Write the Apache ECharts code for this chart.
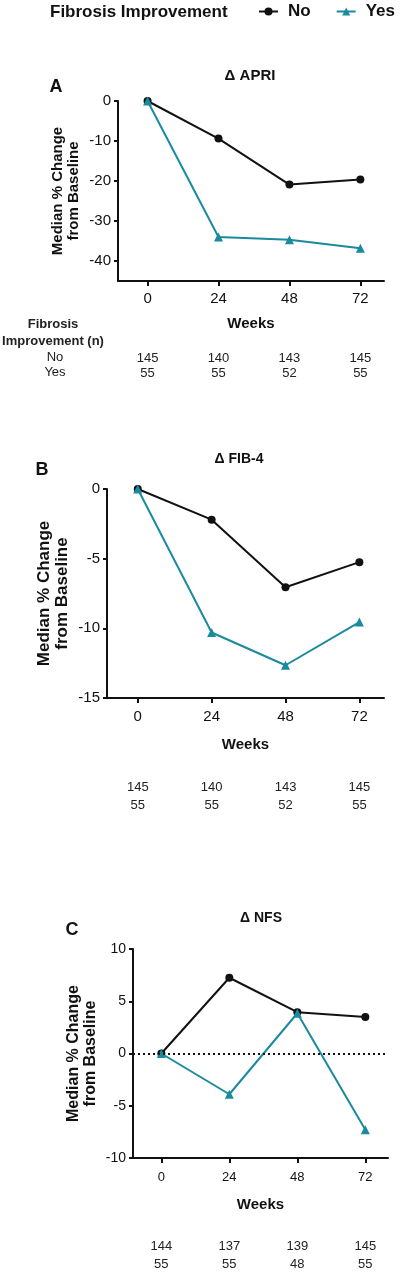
<!DOCTYPE html>
<html>
<head>
<meta charset="utf-8">
<script src="https://cdn.jsdelivr.net/npm/echarts@6/dist/echarts.min.js"></script>
<style>
html,body{margin:0;padding:0;background:#fff;}
#c{width:400px;height:1276px;}
</style>
</head>
<body>
<div id="c"></div>
<script>
// ---- data ----
const weeks = [0, 24, 48, 72];
const seriesNames = ['No', 'Yes'];
const apriNo  = [0, -9.4, -20.9, -19.6];
const apriYes = [0, -34.0, -34.7, -36.8];
const fibNo   = [0, -2.2, -7.05, -5.25];
const fibYes  = [0, -10.3, -12.65, -9.55];
const nfsNo   = [0, 7.25, 3.95, 3.5];
const nfsYes  = [0, -3.9, 3.85, -7.3];
const apriNNo  = [145, 140, 143, 145];
const apriNYes = [55, 55, 52, 55];
const fibNNo   = [145, 140, 143, 145];
const fibNYes  = [55, 55, 52, 55];
const nfsNNo   = [144, 137, 139, 145];
const nfsNYes  = [55, 55, 48, 55];
const apriTicks = [-40, -30, -20, -10, 0];
const fibTicks  = [-15, -10, -5, 0];
const nfsTicks  = [-10, -5, 0, 5, 10];
const panelTitles = ['\u0394 APRI', '\u0394 FIB-4', '\u0394 NFS'];
const panelLetters = ['A', 'B', 'C'];
const legendTitle = 'Fibrosis Improvement';
const tableHeader = 'Fibrosis\nImprovement (n)';
const rowLabels = ['No', 'Yes'];
const xName = 'Weeks';
const yName = 'Median % Change\nfrom Baseline';

// ---- styles ----
const FONT = '"Liberation Sans", Arial, Helvetica, sans-serif';
const BLACK = '#111111';
const TEAL = '#1a8a9e';

const chart = echarts.init(document.getElementById('c'), null, {renderer: 'canvas'});

const grids = [
  {left: 118, top: 101, width: 266, height: 180},
  {left: 107, top: 489, width: 277, height: 209},
  {left: 133, top: 949, width: 255, height: 209}
];
const yRanges = [[-45, 0, apriTicks], [-15, 0, fibTicks], [-10, 10, nfsTicks]];
const xLabelMargin = [10, 11, 13];
const xLabelSize = [15, 15, 13];
const yLabelSize = [15, 15, 14];
const yNameSize = [15, 17, 16];
const yNameGap = [36, 36, 34];
const weeksGap = [35, 39, 39];
const tableMargin = [70, 80, 79];
const tableLH = [15, 18, 18];
const tableSize = [13, 13, 13];
const nTables = [[apriNNo, apriNYes], [fibNNo, fibNYes], [nfsNNo, nfsNYes]];
const dataSets = [[apriNo, apriYes], [fibNo, fibYes], [nfsNo, nfsYes]];

const xAxes = [];
const yAxes = [];
const series = [];
grids.forEach((g, i) => {
  xAxes.push({
    type: 'value', gridIndex: i, min: -10, max: 80,
    name: xName, nameLocation: 'middle', nameGap: weeksGap[i], nameMoveOverlap: false,
    nameTextStyle: {fontFamily: FONT, fontSize: 15, fontWeight: 'bold', color: BLACK},
    axisLine: {show: true, onZero: false, lineStyle: {color: BLACK, width: 2}},
    axisTick: {show: true, customValues: weeks, length: 5, lineStyle: {color: BLACK, width: 2}},
    axisLabel: {customValues: weeks, margin: xLabelMargin[i], fontFamily: FONT, fontSize: xLabelSize[i], color: BLACK},
    splitLine: {show: false}
  });
  // n-at-risk table drawn as an extra axis
  const nt = nTables[i];
  xAxes.push({
    type: 'value', gridIndex: i, min: -10, max: 80, position: 'bottom',
    axisLine: {show: false}, axisTick: {show: false}, splitLine: {show: false},
    axisLabel: {
      customValues: weeks, margin: tableMargin[i], fontFamily: FONT, fontSize: tableSize[i],
      color: '#222', lineHeight: tableLH[i],
      formatter: v => { const k = weeks.indexOf(v); return nt[0][k] + '\n' + nt[1][k]; }
    }
  });
  const yr = yRanges[i];
  yAxes.push({
    type: 'value', gridIndex: i, min: yr[0], max: yr[1],
    name: yName, nameLocation: 'middle', nameGap: yNameGap[i], nameRotate: 90, nameMoveOverlap: false,
    nameTextStyle: {fontFamily: FONT, fontSize: yNameSize[i], fontWeight: 'bold', color: BLACK, lineHeight: yNameSize[i] + 1},
    axisLine: {show: true, onZero: false, lineStyle: {color: BLACK, width: 2}},
    axisTick: {show: true, customValues: yr[2], length: 4, lineStyle: {color: BLACK, width: 2}},
    axisLabel: {customValues: yr[2], margin: 7, fontFamily: FONT, fontSize: yLabelSize[i], color: BLACK},
    splitLine: {show: false}
  });
  const ds = dataSets[i];
  series.push({
    name: seriesNames[0], type: 'line', xAxisIndex: i * 2, yAxisIndex: i,
    data: weeks.map((w, k) => [w, ds[0][k]]),
    symbol: 'circle', symbolSize: 8, clip: false,
    lineStyle: {color: BLACK, width: 2}, itemStyle: {color: BLACK},
    z: 3,
    markLine: i === 2 ? {
      silent: true, symbol: ['none', 'none'], label: {show: false},
      lineStyle: {color: BLACK, type: [2, 3], width: 2},
      data: [{yAxis: 0}]
    } : undefined
  });
  series.push({
    name: seriesNames[1], type: 'line', xAxisIndex: i * 2, yAxisIndex: i,
    data: weeks.map((w, k) => [w, ds[1][k]]),
    symbol: 'triangle', symbolSize: 9, clip: false,
    lineStyle: {color: TEAL, width: 2}, itemStyle: {color: TEAL},
    z: 4
  });
});

const titlePos = [[250, 76], [239, 459], [261, 918]];
const titleSize = [15, 14, 14];
const letterPos = [[56, 87], [42, 470], [72, 930]];

chart.setOption({
  animation: false,
  backgroundColor: '#fff',
  grid: grids.map(g => Object.assign({containLabel: false}, g)),
  xAxis: xAxes,
  yAxis: yAxes,
  legend: {
    data: seriesNames, left: 258, top: 3, padding: 0, width: 145, orient: 'horizontal',
    itemWidth: 19, itemHeight: 10, itemGap: 25,
    textStyle: {fontFamily: FONT, fontSize: 17, fontWeight: 'bold', color: BLACK, padding: [0, 0, 0, 5]}
  },
  graphic: [
    {type: 'text', x: 50, y: 12, style: {text: legendTitle, font: 'bold 17px ' + FONT, fill: BLACK, verticalAlign: 'middle'}},
    ...panelTitles.map((t, i) => ({
      type: 'text', x: titlePos[i][0], y: titlePos[i][1],
      style: {text: t, font: 'bold ' + titleSize[i] + 'px ' + FONT, fill: BLACK, align: 'center', verticalAlign: 'middle'}
    })),
    ...panelLetters.map((l, i) => ({
      type: 'text', x: letterPos[i][0], y: letterPos[i][1],
      style: {text: l, font: 'bold 18px ' + FONT, fill: BLACK, align: 'center', verticalAlign: 'middle'}
    })),
    {type: 'text', x: 53, y: 333, style: {text: tableHeader, font: 'bold 13px ' + FONT, fill: '#222', align: 'center', verticalAlign: 'middle', lineHeight: 17}},
    {type: 'text', x: 55, y: 350, style: {text: rowLabels.join('\n'), font: '13px ' + FONT, fill: '#222', align: 'center', verticalAlign: 'top', lineHeight: 15}}
  ],
  series: series
});
</script>
</body>
</html>
